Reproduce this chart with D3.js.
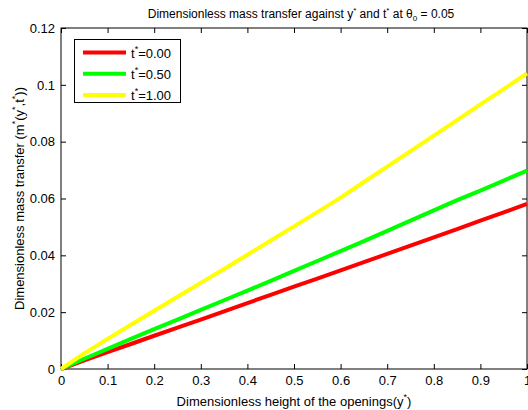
<!DOCTYPE html>
<html><head><meta charset="utf-8">
<script src="https://cdn.jsdelivr.net/npm/d3@7"></script>
<style>body{margin:0;background:#fff;} svg{display:block;font-family:"Liberation Sans",Arial,sans-serif;}</style>
</head><body>
<svg id="c" width="528" height="410"></svg>
<script>
const yStar = [0,0.05,0.1,0.15,0.2,0.25,0.3,0.35,0.4,0.45,0.5,0.55,0.6,0.65,0.7,0.75,0.8,0.85,0.9,0.95,1.0];
const mT000 = [0,0.0030,0.0059,0.0088,0.0117,0.0146,0.0174,0.0203,0.0232,0.0261,0.0290,0.0318,0.0347,0.0376,0.0405,0.0434,0.0463,0.0492,0.0522,0.0551,0.0581];
const mT050 = [0,0.0036,0.0071,0.0106,0.0140,0.0174,0.0208,0.0242,0.0276,0.0310,0.0345,0.0380,0.0415,0.0450,0.0486,0.0522,0.0558,0.0594,0.0628,0.0663,0.0698];
const mT100 = [0,0.0055,0.0106,0.0156,0.0205,0.0254,0.0303,0.0352,0.0402,0.0452,0.0502,0.0552,0.0603,0.0658,0.0712,0.0767,0.0821,0.0876,0.0931,0.0985,0.1040];
const seriesNames = ["0.00","0.50","1.00"];
const seriesColors = ["#ff0000","#00ff00","#ffff00"];
const xTicks = [0,0.1,0.2,0.3,0.4,0.5,0.6,0.7,0.8,0.9,1];
const yTicks = [0,0.02,0.04,0.06,0.08,0.1,0.12];

const series = [mT000, mT050, mT100];
const svg = d3.select("#c");
const L=61, R=527, T=28, B=369;
const x = d3.scaleLinear().domain([0,1]).range([L,R]);
const y = d3.scaleLinear().domain([0,0.12]).range([B,T]);

const fmt = d => d3.format("~g")(d);
const gx = svg.append("g").attr("transform",`translate(0,${B})`)
  .call(d3.axisBottom(x).tickValues(xTicks).tickSizeInner(-5).tickSizeOuter(0).tickPadding(7).tickFormat(fmt));
const gy = svg.append("g").attr("transform",`translate(${L},0)`)
  .call(d3.axisLeft(y).tickValues(yTicks).tickSizeInner(-5).tickSizeOuter(0).tickPadding(6).tickFormat(fmt));
const gxt = svg.append("g").attr("transform",`translate(0,${T})`)
  .call(d3.axisTop(x).tickValues(xTicks).tickSizeInner(-5).tickSizeOuter(0).tickFormat(""));
const gyr = svg.append("g").attr("transform",`translate(${R},0)`)
  .call(d3.axisRight(y).tickValues(yTicks).tickSizeInner(-5).tickSizeOuter(0).tickFormat(""));
[gx,gy,gxt,gyr].forEach(g=>{
  g.select(".domain").remove();
  g.selectAll("line").attr("stroke","#000");
  g.selectAll("text").attr("fill","#000").style("font-size","13px").style("font-family","Liberation Sans, Arial, sans-serif");
});
svg.append("rect").attr("x",L).attr("y",T).attr("width",R-L).attr("height",B-T)
  .attr("fill","none").attr("stroke","#000").attr("stroke-width",1);

const line = d3.line().x((d,i)=>x(yStar[i])).y(d=>y(d));
series.forEach((s,k)=>{
  svg.append("path").datum(s).attr("d",line).attr("fill","none")
    .attr("stroke",seriesColors[k]).attr("stroke-width",4).attr("stroke-linejoin","round");
});

// legend
const lg = svg.append("g");
lg.append("rect").attr("x",74.5).attr("y",39.5).attr("width",106).attr("height",63)
  .attr("fill","#fff").attr("stroke","#000");
seriesNames.forEach((n,k)=>{
  const yy = 52.5 + k*21.3;
  lg.append("line").attr("x1",83).attr("x2",126).attr("y1",yy).attr("y2",yy)
    .attr("stroke",seriesColors[k]).attr("stroke-width",4);
  const t = lg.append("text").attr("x",131).attr("y",yy+5).style("font-size","13px").attr("fill","#000");
  t.append("tspan").text("t");
  t.append("tspan").attr("dy",-6).style("font-size","9px").text("*");
  t.append("tspan").attr("dy",6).text("=" + n);
});

// title
const tt = svg.append("text").attr("x",301).attr("y",18).attr("text-anchor","middle")
  .style("font-size","12px").attr("fill","#000");
tt.append("tspan").text("Dimensionless mass transfer against y");
tt.append("tspan").attr("dy",-5).style("font-size","8px").text("*");
tt.append("tspan").attr("dy",5).text(" and t");
tt.append("tspan").attr("dy",-5).style("font-size","8px").text("*");
tt.append("tspan").attr("dy",5).text(" at θ");
tt.append("tspan").attr("dy",3).style("font-size","8px").text("0");
tt.append("tspan").attr("dy",-3).text(" = 0.05");

// x label
const xl = svg.append("text").attr("x",(L+R)/2).attr("y",406).attr("text-anchor","middle")
  .style("font-size","13px").attr("fill","#000");
xl.append("tspan").text("Dimensionless height of the openings(y");
xl.append("tspan").attr("dy",-6).style("font-size","9px").text("*");
xl.append("tspan").attr("dy",6).text(")");

// y label
const yl = svg.append("text").attr("transform",`translate(24,${(T+B)/2}) rotate(-90)`).attr("text-anchor","middle")
  .style("font-size","13px").attr("fill","#000");
yl.append("tspan").text("Dimensionless mass transfer (m");
yl.append("tspan").attr("dy",-6).style("font-size","9px").text("*");
yl.append("tspan").attr("dy",6).text("(y");
yl.append("tspan").attr("dy",-6).style("font-size","9px").text("*");
yl.append("tspan").attr("dy",6).text(",t");
yl.append("tspan").attr("dy",-6).style("font-size","9px").text("*");
yl.append("tspan").attr("dy",6).text("))");
</script>
</body></html>
